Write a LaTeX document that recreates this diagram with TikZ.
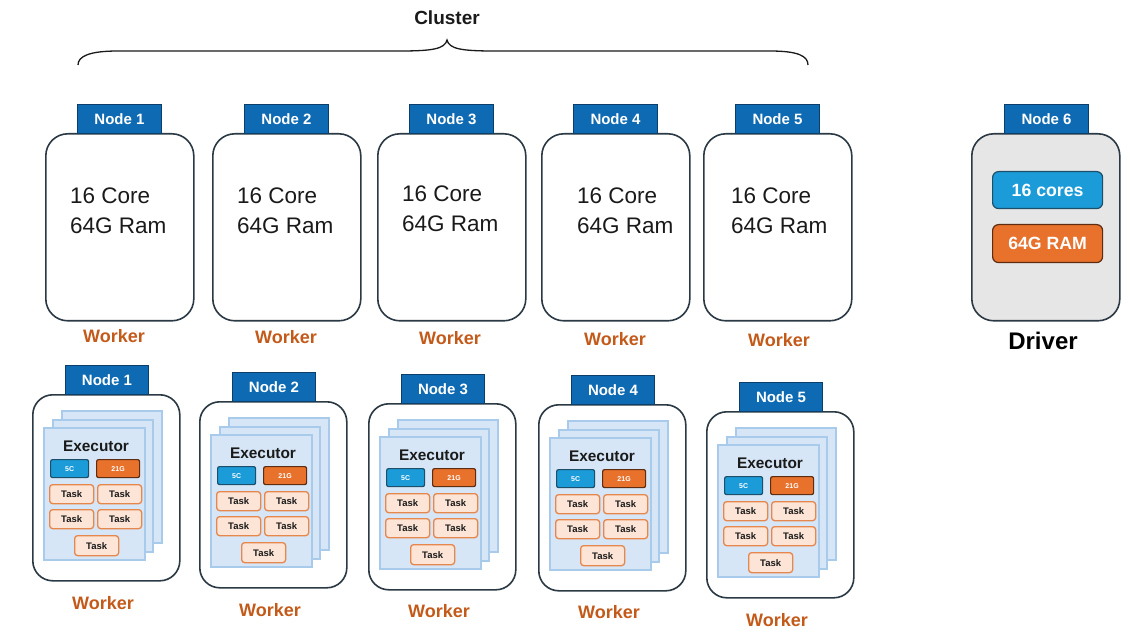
\documentclass[tikz,border=0pt]{standalone}
\usepackage{fontspec}
\setmainfont{Liberation Sans}
\definecolor{tabblue}{HTML}{0E6AB3}
\definecolor{tabborder}{HTML}{0C3E6A}
\definecolor{boxborder}{HTML}{2B3944}
\definecolor{workerc}{HTML}{C45A1A}
\definecolor{sheetfill}{HTML}{D6E6F6}
\definecolor{sheetborder}{HTML}{A8CBEC}
\definecolor{taskfill}{HTML}{FCE4D6}
\definecolor{taskborder}{HTML}{E6874E}
\definecolor{cyanfill}{HTML}{1B9BD8}
\definecolor{cyanborder}{HTML}{1E4F6A}
\definecolor{orangefill}{HTML}{E8712C}
\definecolor{orangeborder}{HTML}{5E2C10}
\definecolor{drivergray}{HTML}{E6E6E6}
\definecolor{textdark}{HTML}{1A1A1A}
\tikzset{
  nodebox/.style={draw=boxborder, line width=1.6pt, rounded corners=22pt, fill=white, anchor=north west, inner sep=0pt},
  tabbox/.style={draw=tabborder, fill=tabblue, line width=1pt, anchor=north west, minimum width=84pt, minimum height=29pt, inner sep=0pt, text=white, font=\bfseries\fontsize{15}{15}\selectfont},
  specs/.style={anchor=west, align=left, inner sep=0pt, text=textdark, font=\fontsize{22.5}{30}\selectfont},
  worker/.style={text=workerc, inner sep=0pt, font=\bfseries\fontsize{18}{18}\selectfont},
  sheet/.style={draw=sheetborder, fill=sheetfill, line width=1.2pt},
  taskbox/.style={draw=taskborder, fill=taskfill, line width=1.3pt, rounded corners=3pt, minimum width=44pt, minimum height=19pt, inner sep=0pt, anchor=north west, text=textdark, font=\bfseries\fontsize{9.5}{9.5}\selectfont},
  corebox/.style={draw=cyanborder, fill=cyanfill, line width=1.2pt, rounded corners=2pt, minimum width=38pt, minimum height=18pt, inner sep=0pt, anchor=north west, text=white, font=\bfseries\fontsize{7}{7}\selectfont},
  rambox/.style={draw=orangeborder, fill=orangefill, line width=1.2pt, rounded corners=2pt, minimum width=43pt, minimum height=18pt, inner sep=0pt, anchor=north west, text=white, font=\bfseries\fontsize{7}{7}\selectfont},
  exectitle/.style={inner sep=0pt, text=textdark, font=\bfseries\fontsize{15.4}{15.4}\selectfont},
}
\begin{document}
\begin{tikzpicture}[x=1pt,y=-1pt]
\useasboundingbox[fill=white] (0,0) rectangle (1130,636);

% Cluster brace
\node[inner sep=0pt, text=textdark, font=\bfseries\fontsize{19}{19}\selectfont] (cluster) at (447,18) {Cluster};
\draw[line width=1.3pt, draw=textdark] (78,65) .. controls (78,56) and (90,51) .. (118,51) -- (400,51)
  .. controls (432,51) and (445,49) .. (447,40)
  .. controls (449,49) and (462,51) .. (494,51) -- (770,51)
  .. controls (798,51) and (808,56) .. (808,65);

% Top row workers
\foreach \n/\bx/\tx/\ty/\wx/\wy in {1/45/25/211/114/336, 2/212/25/211/286/337, 3/377/25/209/450/338, 4/541/36/211/615/339, 5/703/28/211/779/340}{
  \node[nodebox, minimum width=148pt, minimum height=187pt] (top\n) at (\bx,133) {};
  \node[tabbox] (toptab\n) at (\bx+32,104) {Node \n};
  \node[specs] (topspec\n) at (\bx+\tx,\ty) {16 Core\\64G Ram};
  \node[worker] (topworker\n) at (\wx,\wy) {Worker};
}

% Driver node
\node[nodebox, fill=drivergray, minimum width=148pt, minimum height=187pt] (top6) at (971,133) {};
\node[tabbox] (toptab6) at (1004,104) {Node 6};
\node[draw=cyanborder, fill=cyanfill, line width=1.2pt, rounded corners=6pt, anchor=north west, minimum width=110pt, minimum height=37pt, inner sep=0pt, text=white, font=\bfseries\fontsize{17.7}{17.7}\selectfont] (cores6) at (992,171) {16 cores};
\node[draw=orangeborder, fill=orangefill, line width=1.2pt, rounded corners=6pt, anchor=north west, minimum width=110pt, minimum height=38pt, inner sep=0pt, text=white, font=\bfseries\fontsize{17.7}{17.7}\selectfont] (ram6) at (992,224) {64G RAM};
\node[inner sep=0pt, text=black, font=\bfseries\fontsize{24}{24}\selectfont] (driver) at (1043,341) {Driver};

% Bottom row executors
\foreach \n/\bx/\by/\wy in {1/32/394/603, 2/199/401/610, 3/368/403/611, 4/538/404/612, 5/706/411/620}{
  \node[nodebox, rounded corners=20pt, minimum width=147pt, minimum height=186pt] (bot\n) at (\bx,\by) {};
  \node[tabbox, minimum width=83pt] (bottab\n) at (\bx+33,\by-29) {Node \n};
  \draw[sheet] (\bx+30,\by+17) rectangle (\bx+130,\by+149);
  \draw[sheet] (\bx+21,\by+26) rectangle (\bx+121,\by+158);
  \draw[sheet] (\bx+12,\by+34) rectangle (\bx+113,\by+166);
  \node[exectitle] (exec\n) at (\bx+64,\by+52) {Executor};
  \node[corebox] (core\n) at (\bx+18,\by+65) {5C};
  \node[rambox] (ram\n) at (\bx+64,\by+65) {21G};
  \node[taskbox] (taska\n) at (\bx+17,\by+90) {Task};
  \node[taskbox] (taskb\n) at (\bx+65,\by+90) {Task};
  \node[taskbox] (taskc\n) at (\bx+17,\by+115) {Task};
  \node[taskbox] (taskd\n) at (\bx+65,\by+115) {Task};
  \node[taskbox, minimum height=20pt] (taske\n) at (\bx+42,\by+141) {Task};
  \node[worker] (botworker\n) at (\bx+71,\wy) {Worker};
}
\end{tikzpicture}
\end{document}
